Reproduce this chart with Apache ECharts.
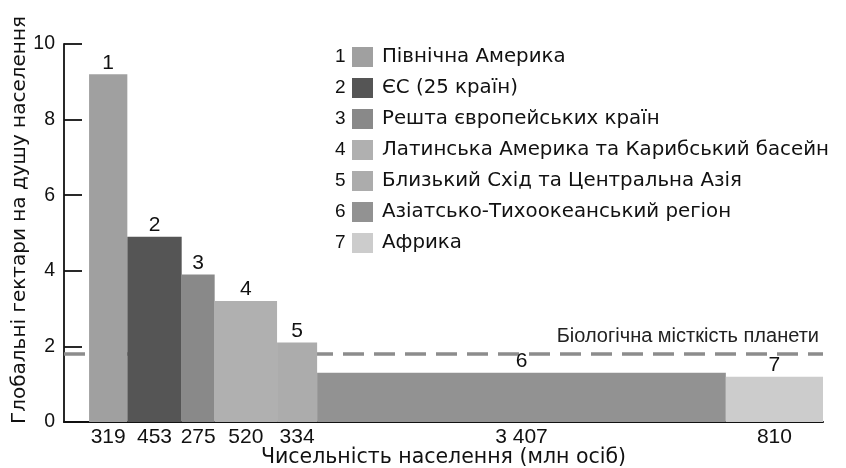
<!DOCTYPE html>
<html>
<head>
<meta charset="utf-8">
<script src="https://cdn.jsdelivr.net/npm/echarts@6/dist/echarts.min.js"></script>
<style>html,body{margin:0;padding:0;background:#fff}#c{width:846px;height:468px}</style>
</head>
<body>
<div id="c"></div>
<script>
const regions = ['Північна Америка', 'ЄС (25 країн)', 'Решта європейських країн', 'Латинська Америка та Карибський басейн', 'Близький Схід та Центральна Азія', 'Азіатсько-Тихоокеанський регіон', 'Африка'];
const population = [319, 453, 275, 520, 334, 3407, 810];
const populationLabels = ['319', '453', '275', '520', '334', '3 407', '810'];
const footprint = [9.2, 4.9, 3.9, 3.2, 2.1, 1.3, 1.2];
const biocapacity = 1.8;
const colors = ['#a0a0a0', '#555555', '#898989', '#b0b0b0', '#acacac', '#929292', '#cccccc'];
const yTicks = [0, 2, 4, 6, 8, 10];

const FONT = '"Liberation Sans", Arial, sans-serif';
const WIDE = '"DejaVu Sans", sans-serif';
const starts = [];
let acc = 0;
population.forEach(p => { starts.push(acc); acc += p; });
const total = acc;
const centers = starts.map((s, i) => s + population[i] / 2);

const chart = echarts.init(document.getElementById('c'));

const series = regions.map((name, i) => ({
  name: name,
  type: 'custom',
  z: 3,
  itemStyle: { color: colors[i] },
  encode: { x: [0, 1], y: 2 },
  data: [[starts[i], starts[i] + population[i], footprint[i], i]],
  renderItem: function (params, api) {
    const p0 = api.coord([api.value(0), api.value(2)]);
    const p1 = api.coord([api.value(1), 0]);
    const idx = api.value(3);
    return {
      type: 'group',
      children: [
        {
          type: 'rect',
          shape: { x: p0[0], y: p0[1], width: p1[0] - p0[0], height: p1[1] - p0[1] },
          style: { fill: colors[idx] }
        },
        {
          type: 'text',
          style: {
            text: String(idx + 1),
            x: (p0[0] + p1[0]) / 2,
            y: p0[1] - 1,
            align: 'center',
            verticalAlign: 'bottom',
            fill: '#111',
            font: '21px ' + FONT
          }
        }
      ]
    };
  }
}));

series.push({
  name: 'biocap',
  type: 'line',
  z: 1,
  symbol: 'none',
  silent: true,
  data: [[-209, biocapacity], [total, biocapacity]],
  lineStyle: { color: '#8c8c8c', width: 3.5, type: [21, 10] }
});

const graphics = regions.map((r, i) => ({
  type: 'text',
  left: 335,
  top: 47.5 + i * 31,
  style: { text: String(i + 1), fill: '#111', font: '19px ' + FONT }
}));

graphics.push({
  type: 'text',
  right: 27,
  top: 326,
  style: { text: 'Біологічна місткість планети', fill: '#222', font: '20px ' + FONT }
});

chart.setOption({
  animation: false,
  backgroundColor: '#fff',
  grid: { left: 64, right: 23, top: 44, bottom: 46, outerBoundsMode: 'none', containLabel: false },
  legend: {
    data: regions,
    orient: 'vertical',
    left: 352,
    top: 47,
    padding: 0,
    itemWidth: 21,
    itemHeight: 20,
    itemGap: 11,
    icon: 'rect',
    textStyle: { fontFamily: WIDE, fontSize: 19.8, color: '#111', padding: [0, 0, 0, 4] },
    selectedMode: false
  },
  xAxis: {
    type: 'value',
    min: -209,
    max: total,
    name: 'Чисельність населення (млн осіб)',
    nameLocation: 'middle',
    nameGap: 25,
    nameMoveOverlap: false,
    nameTextStyle: { fontFamily: WIDE, fontSize: 20.5, color: '#111' },
    axisLine: { show: true, onZero: false, lineStyle: { color: '#111', width: 2 } },
    axisTick: { show: false },
    splitLine: { show: false },
    axisLabel: {
      customValues: centers,
      margin: 5,
      fontFamily: FONT,
      fontSize: 21,
      color: '#111',
      formatter: function (v) {
        let best = 0, bd = Infinity;
        centers.forEach((c, i) => { const d = Math.abs(c - v); if (d < bd) { bd = d; best = i; } });
        return populationLabels[best];
      }
    }
  },
  yAxis: {
    type: 'value',
    min: 0,
    max: 10,
    interval: 2,
    name: 'Глобальні гектари на душу населення',
    nameLocation: 'middle',
    nameGap: 34,
    nameMoveOverlap: false,
    nameTextStyle: { fontFamily: WIDE, fontSize: 20, color: '#111', padding: [0, 0, 0, 26] },
    axisLine: { show: true, onZero: false, lineStyle: { color: '#111', width: 1.8 } },
    axisTick: { show: true, inside: true, length: 18, lineStyle: { color: '#111', width: 1.8 } },
    splitLine: { show: false },
    axisLabel: {
      margin: 9,
      fontFamily: FONT,
      fontSize: 19.5,
      color: '#111',
      formatter: v => (yTicks.indexOf(v) >= 0 ? String(v) : '')
    }
  },
  graphic: graphics,
  series: series
});
</script>
</body>
</html>
